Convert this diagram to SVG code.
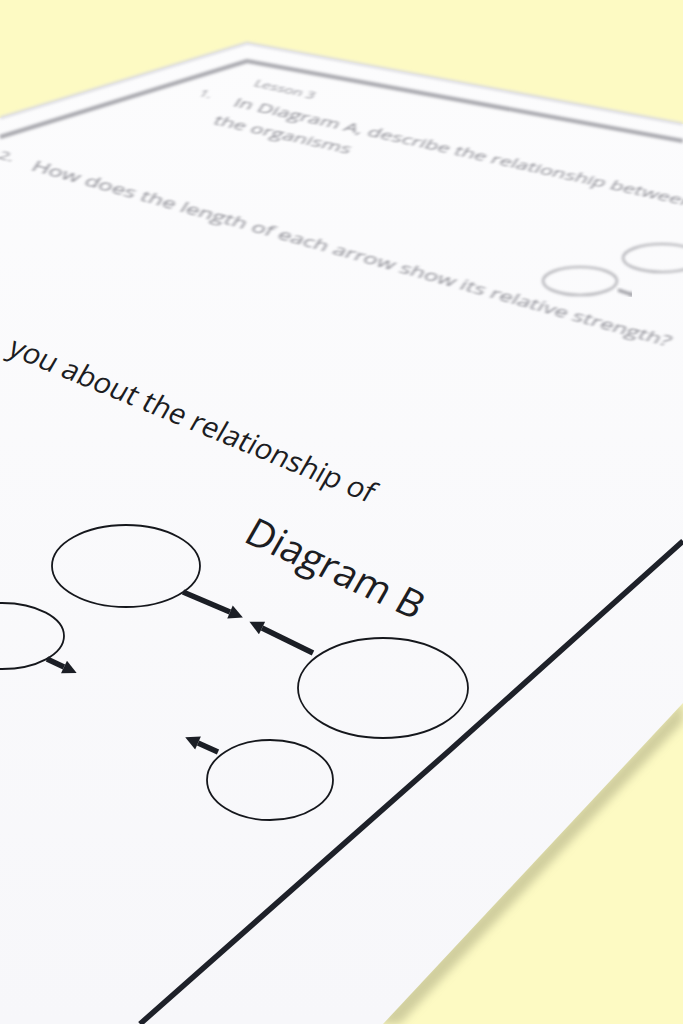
<svg xmlns="http://www.w3.org/2000/svg" width="683" height="1024" viewBox="0 0 683 1024">
<defs>
<style>
.node{fill:none;stroke:#15171c;stroke-width:1.8}
.conn{stroke:#1b1e25;stroke-width:5.5;fill:none;marker-end:url(#head)}
.faint{fill:#8e8e95;font-family:'Open Sans','Liberation Sans',sans-serif;filter:url(#blur)}
.fnode{fill:none;stroke:#adadb2;stroke-width:2.2;filter:url(#blur)}
.ink{fill:#1c1d22;font-family:'Open Sans','Liberation Sans',sans-serif}
</style>
<filter id="blur" x="-10%" y="-60%" width="120%" height="220%"><feGaussianBlur stdDeviation="1.7"/></filter>
<filter id="soft" x="-20%" y="-20%" width="140%" height="140%"><feGaussianBlur stdDeviation="4"/></filter>
<marker id="head" viewBox="0 0 10 10" refX="0" refY="5" markerWidth="15" markerHeight="14" markerUnits="userSpaceOnUse" orient="auto"><path d="M0,0 L10,5 L0,10 z" fill="#1b1e25"/></marker>
<marker id="fhead" viewBox="0 0 10 10" refX="0" refY="5" markerWidth="7" markerHeight="6" markerUnits="userSpaceOnUse" orient="auto"><path d="M0,0 L10,5 L0,10 z" fill="#9a9aa0"/></marker>
<linearGradient id="paperFill" x1="0" y1="0" x2="0" y2="1"><stop offset="0" stop-color="#fcfcfd"/><stop offset="1" stop-color="#f7f7fa"/></linearGradient>
</defs>
<rect width="683" height="1024" fill="#fdfac3"/>
<polygon points="683,700 376,1024 400,1024 683,722" fill="#bdbb8e" filter="url(#soft)" opacity="0.7"/>
<polygon id="paper" points="0,118 247,43 683,124 683,703 383,1024 0,1024" fill="url(#paperFill)"/>
<polyline points="0,118 247,43 683,124" fill="none" stroke="#dcdce0" stroke-width="3" filter="url(#blur)"/>
<polyline points="0,137 247,61 683,141" fill="none" stroke="#a6a6ac" stroke-width="4" filter="url(#blur)"/>
<polyline id="border" points="683,541 450,750 140,1024" fill="none" stroke="#1e2129" stroke-width="5.5"/>

<g id="faded">
<text class="faint" font-size="15" transform="matrix(0.977,0.215,-0.4,0.6,253,86)">Lesson 3</text>
<text class="faint" font-size="14" transform="matrix(0.977,0.215,-0.4,0.6,198,96)">1.</text>
<text class="faint" font-size="21" transform="matrix(0.977,0.215,-0.4,0.6,232,106)">In Diagram A, describe the relationship between</text>
<text class="faint" font-size="21" transform="matrix(0.977,0.215,-0.4,0.6,212,124)">the organisms</text>
<text class="faint" font-size="18" transform="matrix(0.966,0.268,-0.4,0.6,-3,158)">2.</text>
<text class="faint" font-size="23" transform="matrix(0.966,0.268,-0.4,0.6,30,170)">How does the length of each arrow show its relative strength?</text>
<ellipse class="fnode" cx="580" cy="281" rx="37" ry="14"/>
<ellipse class="fnode" cx="662" cy="258" rx="39" ry="14"/>
<line x1="618" y1="290" x2="630" y2="294" stroke="#9a9aa0" stroke-width="3" marker-end="url(#fhead)" filter="url(#blur)"/>
</g>

<text id="question" class="ink" font-size="29" transform="matrix(0.925,0.38,-0.5,0.87,6,354)">you about the relationship of</text>
<text id="title" class="ink" font-size="39" transform="matrix(0.91,0.415,-0.5,0.87,242,541)">Diagram B</text>

<g id="node1"><ellipse class="node" cx="126" cy="566" rx="74" ry="41"/></g>
<g id="node2"><ellipse class="node" cx="2" cy="636" rx="62" ry="33"/></g>
<g id="node3"><ellipse class="node" cx="383" cy="688" rx="85" ry="50"/></g>
<g id="node4"><ellipse class="node" cx="270" cy="780" rx="63" ry="40"/></g>

<g id="connectors">
<line class="conn" x1="183" y1="592" x2="230" y2="612"/>
<line class="conn" x1="313" y1="653" x2="262" y2="628"/>
<line class="conn" x1="47" y1="659" x2="64" y2="667"/>
<line class="conn" x1="218" y1="752" x2="198" y2="743"/>
</g>
</svg>
